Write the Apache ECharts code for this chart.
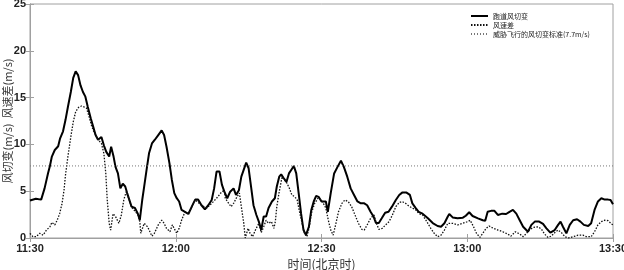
<!DOCTYPE html>
<html>
<head>
<meta charset="utf-8">
<script src="https://cdn.jsdelivr.net/npm/echarts@6/dist/echarts.min.js"></script>
<style>
  html, body { margin: 0; padding: 0; background: #fff; }
  #chart { width: 624px; height: 270px; }
</style>
</head>
<body>
<div id="chart"></div>
<script>
// minutes after 11:30 and values (m/s)
const shearT = [0, 1.2, 2.3, 3.0, 3.7, 4.1, 4.5, 5.1, 5.8, 6.2, 6.8, 7.3, 7.8, 8.4, 8.9, 9.4, 9.9, 10.4, 10.9, 11.4, 11.9, 12.5, 13.0, 13.5, 14.0, 14.3, 14.7, 15.2, 15.7, 16.3, 16.7, 17.2, 17.6, 18.1, 18.6, 19.1, 19.6, 20.0, 20.2, 20.9, 21.6, 22.2, 22.6, 23.1, 23.5, 24.0, 24.5, 25.1, 25.7, 26.4, 27.1, 27.6, 28.1, 28.7, 29.2, 29.7, 30.2, 30.7, 31.2, 31.9, 32.6, 33.3, 34.0, 34.6, 35.3, 36.0, 36.7, 37.4, 37.9, 38.4, 39.0, 39.5, 40.0, 40.6, 41.2, 41.9, 42.4, 43.0, 43.5, 44.0, 44.5, 45.0, 45.5, 46.0, 46.6, 47.1, 47.6, 48.1, 48.6, 49.1, 49.8, 50.4, 50.8, 51.3, 51.7, 52.2, 52.8, 53.3, 53.8, 54.3, 54.8, 55.3, 55.8, 56.3, 56.8, 57.4, 57.9, 58.4, 58.9, 59.4, 60.0, 60.9, 61.3, 61.9, 62.6, 63.3, 64.0, 64.6, 65.3, 66.0, 66.7, 67.4, 68.1, 68.8, 69.4, 70.1, 70.7, 71.2, 71.8, 72.4, 73.1, 73.8, 74.5, 75.3, 76.0, 76.6, 77.5, 78.2, 78.7, 79.4, 80.0, 80.8, 81.9, 82.9, 83.9, 84.6, 85.3, 86.0, 86.3, 87.0, 88.0, 89.1, 89.7, 90.4, 91.1, 92.2, 93.2, 93.7, 94.2, 94.9, 95.6, 96.3, 97.2, 98.0, 98.7, 99.4, 100.1, 100.8, 101.5, 102.5, 103.2, 103.9, 104.8, 105.6, 106.3, 107.1, 108.0, 108.7, 109.2, 109.7, 110.4, 111.1, 111.8, 112.6, 113.3, 114.0, 114.9, 115.5, 116.2, 116.9, 117.6, 118.3, 119.0, 119.5, 120];
const shearV = [4.0, 4.2, 4.1, 5.3, 6.9, 7.7, 8.7, 9.4, 9.8, 10.65, 11.4, 12.6, 14.0, 15.6, 17.1, 17.8, 17.4, 16.3, 15.6, 15.1, 14.0, 12.8, 11.9, 11.0, 10.5, 10.3, 10.8, 9.9, 9.2, 8.7, 9.75, 8.7, 7.6, 6.9, 5.3, 5.8, 5.5, 4.8, 4.6, 3.35, 3.2, 2.6, 1.9, 4.06, 5.5, 7.3, 9.05, 10.1, 10.5, 11.0, 11.5, 11.0, 9.75, 8.0, 6.2, 4.8, 4.25, 3.9, 3.0, 2.8, 2.56, 3.35, 4.1, 4.1, 3.5, 3.06, 3.5, 4.06, 5.3, 7.1, 7.1, 5.7, 4.95, 4.25, 4.95, 5.3, 4.6, 5.1, 6.55, 7.3, 8.05, 7.45, 5.5, 3.5, 2.46, 1.75, 0.85, 2.3, 2.3, 3.2, 3.9, 4.25, 5.5, 6.55, 6.8, 6.4, 6.0, 6.9, 7.3, 7.7, 6.9, 4.8, 2.6, 0.85, 0.3, 1.2, 3.0, 3.9, 4.5, 4.4, 3.9, 3.9, 2.8, 4.8, 6.9, 7.6, 8.25, 7.6, 6.55, 5.3, 4.6, 3.9, 3.7, 3.7, 3.5, 2.8, 2.3, 1.6, 1.6, 2.1, 2.7, 2.8, 3.35, 4.06, 4.6, 4.85, 4.85, 4.6, 3.7, 3.2, 2.8, 2.6, 2.1, 1.6, 1.28, 1.2, 1.57, 2.3, 2.56, 2.2, 2.1, 2.17, 2.38, 2.75, 2.35, 2.1, 1.9, 1.85, 2.8, 2.9, 2.9, 2.46, 2.6, 2.56, 2.8, 3.0, 2.6, 1.9, 1.2, 0.67, 1.4, 1.75, 1.75, 1.5, 1.03, 0.57, 0.85, 1.4, 1.75, 1.2, 0.5, 1.4, 1.9, 2.0, 1.75, 1.4, 1.28, 1.57, 3.0, 3.9, 4.25, 4.1, 4.1, 4.06, 3.6];

const diffT = [0, 0.6, 1.3, 2.0, 2.7, 3.4, 4.1, 4.5, 5.1, 5.6, 6.1, 6.6, 7.0, 7.3, 7.8, 8.4, 8.9, 9.4, 10.0, 10.6, 11.1, 11.6, 12.1, 12.6, 13.1, 13.6, 14.2, 14.7, 15.2, 15.6, 15.9, 16.3, 16.6, 17.1, 17.6, 18.3, 18.8, 19.3, 19.8, 20.2, 20.9, 22.2, 22.6, 22.8, 23.5, 24.2, 25.1, 25.6, 26.4, 27.1, 27.6, 28.1, 28.8, 29.3, 29.7, 30.2, 30.7, 31.2, 31.9, 32.6, 34.0, 35.3, 36.4, 37.4, 38.4, 39.5, 40.0, 40.2, 40.9, 41.4, 41.9, 42.6, 43.1, 43.5, 44.0, 44.3, 44.9, 45.3, 45.8, 46.4, 47.1, 47.6, 48.1, 48.6, 49.1, 49.7, 50.2, 50.5, 50.8, 51.3, 51.9, 52.4, 52.9, 53.4, 53.9, 54.5, 55.0, 55.4, 56.0, 56.5, 57.0, 57.5, 58.0, 58.6, 59.3, 60.0, 60.2, 60.9, 61.4, 61.9, 62.4, 62.9, 63.5, 64.2, 64.8, 65.5, 66.2, 66.9, 67.6, 68.3, 68.8, 69.4, 70.1, 70.8, 71.3, 71.8, 72.5, 73.2, 73.9, 74.6, 75.3, 76.0, 76.6, 77.3, 78.0, 78.7, 79.4, 80.1, 80.8, 81.5, 82.5, 83.2, 83.9, 84.6, 85.3, 86.0, 86.3, 87.0, 88.0, 89.1, 90.1, 90.6, 91.3, 91.9, 92.6, 93.2, 93.9, 94.5, 95.4, 96.3, 97.3, 98.3, 99.0, 99.9, 100.8, 101.5, 102.2, 102.9, 103.7, 104.6, 105.3, 105.9, 106.6, 107.3, 108.0, 108.7, 109.4, 110.1, 110.8, 111.8, 112.8, 113.8, 114.5, 115.5, 116.2, 116.9, 117.6, 118.3, 119.0, 119.7, 120];
const diffV = [0.5, 0.14, 0.14, 0.5, 0.3, 0.85, 1.2, 1.67, 1.4, 1.9, 2.6, 3.7, 5.1, 6.7, 8.7, 10.8, 12.4, 13.5, 13.96, 14.1, 14.0, 13.9, 13.1, 12.1, 11.4, 10.9, 10.4, 10.1, 9.05, 6.9, 4.06, 1.57, 0.85, 2.6, 2.3, 1.57, 2.46, 4.06, 4.95, 4.4, 3.3, 2.5, 1.75, 0.5, 1.57, 1.2, 0.2, 0.5, 1.4, 1.9, 1.57, 1.03, 0.67, 1.4, 1.2, 0.5, 1.03, 1.9, 2.8, 2.6, 4.06, 3.5, 3.2, 3.7, 4.25, 4.95, 5.1, 4.25, 3.7, 3.35, 3.7, 4.4, 4.8, 3.35, 1.57, 0, 1.03, 0.5, 0.14, 0.85, 1.57, 0.57, 1.2, 1.9, 1.57, 1.75, 1.03, 1.75, 3.35, 4.95, 6.55, 6.2, 5.85, 5.3, 4.6, 4.4, 4.06, 3.0, 1.57, 0.5, 0.14, 1.2, 2.8, 3.7, 4.25, 4.06, 3.9, 3.2, 1.9, 0.85, 0.3, 1.4, 2.8, 3.7, 4.06, 3.9, 3.35, 2.46, 1.57, 0.93, 0.85, 1.4, 2.1, 2.46, 1.57, 0.93, 1.03, 1.4, 1.75, 2.46, 3.35, 3.8, 3.9, 3.7, 3.4, 3.2, 3.0, 2.6, 2.46, 1.9, 1.03, 0.5, 0.14, 0.3, 0.85, 1.57, 1.75, 1.57, 1.4, 1.57, 1.75, 1.9, 1.2, 0.5, 0.07, 0.5, 1.03, 1.28, 1.03, 0.85, 0.67, 0.43, 0.2, 0.67, 0.43, 0.14, 0.5, 0.93, 1.14, 1.2, 0.93, 0.43, 0.07, 0.2, 0.57, 0.85, 0.57, 0.14, 0, 0.14, 0.3, 0.3, 0.14, 0.14, 0.67, 1.4, 1.75, 1.9, 1.85, 1.5, 1.4];

const threshold = 7.7;
const timeLabels = ['11:30', '12:00', '12:30', '13:00', '13:30'];
const seriesNames = ['跑道风切变', '风速差', '威胁飞行的风切变标准(7.7m/s)'];

const zip = (t, v) => t.map((x, i) => [x, v[i]]);

const chart = echarts.init(document.getElementById('chart'));

const frameColor = '#a0a0a0';
const tickFont = { fontFamily: 'Arial, "Liberation Sans"', fontWeight: 'bold', fontSize: 11, color: '#222' };

const option = {
    animation: false,
    backgroundColor: '#fff',
    grid: {
        left: 30, right: 11, top: 4, bottom: 32,
        outerBoundsMode: 'none', containLabel: false,
        show: true, borderColor: frameColor, borderWidth: 1
    },
    legend: {
        orient: 'vertical',
        left: 465,
        top: 7,
        itemWidth: 17,
        itemHeight: 8,
        itemGap: 1,
        data: seriesNames,
        itemStyle: { opacity: 0 },
        textStyle: { fontFamily: '"Noto Sans CJK SC"', fontSize: 7, lineHeight: 8, color: '#222' }
    },
    xAxis: [
        {
            type: 'value', min: 0, max: 120, interval: 30,
            name: '时间(北京时)', nameLocation: 'middle', nameGap: 20, nameMoveOverlap: false,
            nameTextStyle: { fontFamily: '"Noto Sans CJK SC"', fontSize: 12, color: '#333' },
            axisLine: { lineStyle: { color: frameColor } },
            axisTick: { inside: true, length: 4, lineStyle: { color: frameColor } },
            axisLabel: Object.assign({ margin: 5, formatter: v => timeLabels[v / 30] }, tickFont),
            splitLine: { show: false }
        },
        {
            type: 'value', min: 0, max: 120, interval: 30, position: 'top',
            axisLine: { lineStyle: { color: frameColor } },
            axisTick: { inside: true, length: 4, lineStyle: { color: frameColor } },
            axisLabel: { show: false },
            splitLine: { show: false }
        }
    ],
    yAxis: [
        {
            type: 'value', min: 0, max: 25, interval: 5,
            name: '风切变(m/s)  风速差(m/s)', nameLocation: 'middle', nameGap: 17, nameMoveOverlap: false,
            nameTextStyle: { fontFamily: '"Noto Sans CJK SC"', fontSize: 11, color: '#333' },
            axisLine: { show: true, lineStyle: { color: frameColor } },
            axisTick: { show: true, inside: true, length: 4, lineStyle: { color: frameColor } },
            axisLabel: Object.assign({ margin: 4 }, tickFont),
            splitLine: { show: false }
        },
        {
            type: 'value', min: 0, max: 25, interval: 5, position: 'right',
            axisLine: { show: true, lineStyle: { color: frameColor } },
            axisTick: { show: true, inside: true, length: 4, lineStyle: { color: frameColor } },
            axisLabel: { show: false },
            splitLine: { show: false }
        }
    ],
    series: [
        {
            name: seriesNames[0], type: 'line', symbol: 'none',
            data: zip(shearT, shearV),
            lineStyle: { color: '#000', width: 2 }, itemStyle: { color: '#000' }
        },
        {
            name: seriesNames[1], type: 'line', symbol: 'none',
            data: zip(diffT, diffV),
            lineStyle: { color: '#111', width: 1.3, type: [1.5, 1.5] }, itemStyle: { color: '#111' }
        },
        {
            name: seriesNames[2], type: 'line', symbol: 'none',
            data: [[0, threshold], [120, threshold]],
            lineStyle: { color: '#777', width: 1, type: [1, 2] }, itemStyle: { color: '#777' }
        }
    ]
};

chart.setOption(option);
</script>
</body>
</html>
